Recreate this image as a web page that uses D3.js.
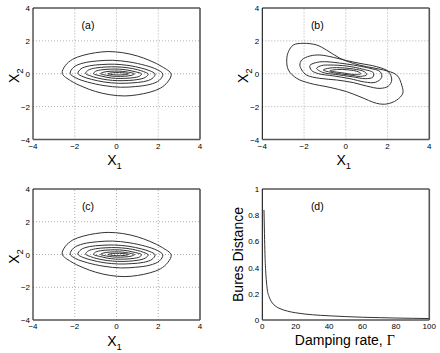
<!DOCTYPE html>
<html>
<head>
<meta charset="utf-8">
<script src="https://cdn.jsdelivr.net/npm/d3@7"></script>
<style>
  body { margin: 0; background: #fff; }
  svg text { font-family: "Liberation Sans", Arial, sans-serif; fill: #000; }
</style>
</head>
<body>
<svg id="fig" width="440" height="353"></svg>
<script>
'use strict';

// tick labels
const phaseTicks = [-4, -2, 0, 2, 4];
const dampTicks = [0, 20, 40, 60, 80, 100];
const buresTicks = [0, 0.2, 0.4, 0.6, 0.8, 1];

// contour lines of panels (a) and (c), [x1, x2] points
const contoursA = [
  [[-2.6,0.02],[-2.45,0.5],[-2.1,0.88],[-1.6,1.12],[-1.0,1.28],[-0.4,1.35],[0.3,1.28],[1.0,1.08],[1.6,0.8],[2.2,0.42],
   [2.62,-0.02],[2.45,-0.5],[2.1,-0.88],[1.6,-1.12],[1.0,-1.28],[0.4,-1.35],[-0.3,-1.28],[-1.0,-1.08],[-1.6,-0.8],[-2.2,-0.42]],
  [[-2.22,0.02],[-2.05,0.4],[-1.6,0.65],[-0.9,0.78],[-0.2,0.82],[0.6,0.72],[1.4,0.5],[1.95,0.25],
   [2.22,-0.02],[2.05,-0.4],[1.6,-0.65],[0.9,-0.78],[0.2,-0.82],[-0.6,-0.72],[-1.4,-0.5],[-1.95,-0.25]],
  [[-1.85,0.02],[-1.7,0.3],[-1.3,0.48],[-0.7,0.56],[-0.1,0.58],[0.6,0.5],[1.2,0.34],[1.6,0.18],
   [1.85,-0.02],[1.7,-0.3],[1.3,-0.48],[0.7,-0.56],[0.1,-0.58],[-0.6,-0.5],[-1.2,-0.34],[-1.6,-0.18]],
  [[-1.48,0.02],[-1.35,0.22],[-1.0,0.35],[-0.5,0.41],[0.0,0.42],[0.5,0.37],[1.0,0.25],[1.3,0.13],
   [1.52,-0.02],[1.38,-0.22],[1.03,-0.35],[0.56,-0.41],[0.06,-0.42],[-0.44,-0.37],[-0.94,-0.25],[-1.24,-0.13]],
  [[-1.1,0.01],[-1.0,0.15],[-0.7,0.24],[-0.3,0.28],[0.15,0.28],[0.55,0.22],[0.9,0.12],
   [1.2,-0.01],[1.1,-0.15],[0.8,-0.24],[0.4,-0.28],[-0.05,-0.28],[-0.45,-0.22],[-0.8,-0.12]],
  [[-0.77,0.01],[-0.6,0.1],[-0.3,0.15],[0.1,0.16],[0.45,0.12],
   [0.87,-0.01],[0.7,-0.1],[0.4,-0.15],[0.0,-0.16],[-0.35,-0.12]],
  [[-0.42,0.0],[-0.2,0.06],[0.15,0.07],[0.45,0.04],[0.58,0.0],[0.36,-0.06],[0.01,-0.07],[-0.29,-0.04]]
];

// contour lines of panel (b)
const contoursB = [
  [[-2.83,0.84],[-2.75,1.34],[-2.51,1.75],[-2.04,1.85],[-1.4,1.75],[-0.92,1.44],[-0.28,0.94],[0.36,0.63],[0.99,0.43],[1.8,0.23],
   [2.44,-0.08],[2.68,-0.69],[2.73,-1.19],[2.44,-1.6],[1.96,-1.84],[1.48,-1.8],[0.68,-1.4],[0.04,-1.09],[-0.76,-0.83],[-1.72,-0.58],
   [-2.35,-0.28],[-2.75,0.23]],
  [[-2.2,0.53],[-2.11,0.84],[-1.72,1.08],[-1.24,1.14],[-0.6,1.0],[0.04,0.8],[0.68,0.63],[1.48,0.43],[2.04,0.13],
   [2.2,-0.38],[2.04,-0.75],[1.64,-0.89],[1.0,-0.75],[0.36,-0.54],[-0.44,-0.38],[-1.24,-0.28],[-1.88,-0.08],[-2.11,0.23]],
  [[-1.72,0.5],[-1.35,0.7],[-0.9,0.73],[-0.3,0.65],[0.36,0.53],[1.16,0.33],[1.64,0.13],
   [1.72,-0.22],[1.42,-0.52],[0.9,-0.5],[0.2,-0.3],[-0.6,-0.13],[-1.3,0.0],[-1.64,0.2]],
  [[-1.4,0.33],[-1.15,0.5],[-0.76,0.53],[0.04,0.47],[0.84,0.27],[1.32,0.06],
   [1.3,-0.2],[0.95,-0.3],[0.3,-0.18],[-0.5,-0.04],[-1.1,0.08]],
  [[-1.08,0.23],[-0.8,0.34],[-0.44,0.37],[0.36,0.29],[0.9,0.12],
   [1.0,-0.06],[0.7,-0.16],[0.2,-0.08],[-0.6,0.06]],
  [[-0.76,0.18],[-0.4,0.26],[0.1,0.24],[0.6,0.12],[0.72,0.0],[0.4,-0.04],[-0.2,0.06]]
];

// panel (d): Bures distance vs damping rate
const dampRate = [1, 1.3, 1.6, 2, 2.5, 3, 4, 5, 6, 8, 10, 15, 20, 30, 40, 50, 60, 70, 80, 90, 100];
const buresDist = [0.84, 0.66, 0.5, 0.38, 0.29, 0.23, 0.18, 0.15, 0.13, 0.105, 0.09, 0.068, 0.055, 0.04, 0.032, 0.026, 0.021, 0.018, 0.015, 0.013, 0.011];

const svg = d3.select("#fig");

const cols = [[33, 200], [262.3, 429.3]];
const rows = [[8, 139.5], [189, 320]];

function makeFrame(col, row, xDomain, yDomain, xTicks, yTicks, grid, yFmt) {
  const x = d3.scaleLinear().domain(xDomain).range(cols[col]);
  const y = d3.scaleLinear().domain(yDomain).range([rows[row][1], rows[row][0]]);
  const g = svg.append("g");

  if (grid) {
    g.selectAll(".gx").data(xTicks.slice(1, -1)).enter().append("line")
      .attr("x1", d => x(d)).attr("x2", d => x(d))
      .attr("y1", y.range()[0]).attr("y2", y.range()[1])
      .attr("stroke", "#999").attr("stroke-width", 0.8).attr("stroke-dasharray", "1,2");
    g.selectAll(".gy").data(yTicks.slice(1, -1)).enter().append("line")
      .attr("y1", d => y(d)).attr("y2", d => y(d))
      .attr("x1", x.range()[0]).attr("x2", x.range()[1])
      .attr("stroke", "#999").attr("stroke-width", 0.8).attr("stroke-dasharray", "1,2");
  }

  // tick labels
  g.selectAll(".tx").data(xTicks).enter().append("text")
    .attr("x", d => x(d)).attr("y", y.range()[0] + 9)
    .attr("text-anchor", "middle").attr("font-size", 8)
    .text(d => d3.format("d")(d));
  g.selectAll(".ty").data(yTicks).enter().append("text")
    .attr("x", x.range()[0] - 3).attr("y", d => y(d) + 3)
    .attr("text-anchor", "end").attr("font-size", 8)
    .text(yFmt);

  return {x: x, y: y, g: g};
}

function drawBox(f) {
  const [x0, x1] = f.x.range();
  const [y1, y0] = f.y.range();
  f.g.append("line").attr("x1", x0).attr("x2", x1).attr("y1", y0).attr("y2", y0)
    .attr("stroke", "#000").attr("stroke-width", 1);
  f.g.append("line").attr("x1", x0).attr("x2", x0).attr("y1", y0).attr("y2", y1)
    .attr("stroke", "#000").attr("stroke-width", 1);
  f.g.append("line").attr("x1", x0).attr("x2", x1).attr("y1", y1).attr("y2", y1)
    .attr("stroke", "#555").attr("stroke-width", 1.6);
  f.g.append("line").attr("x1", x1).attr("x2", x1).attr("y1", y0).attr("y2", y1)
    .attr("stroke", "#555").attr("stroke-width", 1.6);
}

function panelLabel(f, txt) {
  f.g.append("text")
    .attr("x", f.x.range()[0] + 55).attr("y", f.y.range()[1] + 21)
    .attr("text-anchor", "middle").attr("font-size", 10.5)
    .text(txt);
}

function phaseLabels(f) {
  const xm = (f.x.range()[0] + f.x.range()[1]) / 2;
  const ym = (f.y.range()[0] + f.y.range()[1]) / 2;
  const xl = f.g.append("text")
    .attr("x", xm - 2).attr("y", f.y.range()[0] + 25.5)
    .attr("text-anchor", "middle").attr("font-size", 14);
  xl.append("tspan").text("X");
  xl.append("tspan").attr("font-size", 9.5).attr("dy", 4).text("1");

  const yl = f.g.append("text")
    .attr("transform", `translate(${f.x.range()[0] - 14},${ym + 2}) rotate(-90)`)
    .attr("text-anchor", "middle").attr("font-size", 14);
  yl.append("tspan").text("X");
  yl.append("tspan").attr("font-size", 9.5).attr("dy", 4).text("2");
}

function drawContours(f, list) {
  const line = d3.line()
    .x(d => f.x(d[0])).y(d => f.y(d[1]))
    .curve(d3.curveCatmullRomClosed.alpha(0.5));
  f.g.selectAll(".c").data(list).enter().append("path")
    .attr("d", line)
    .attr("fill", "none").attr("stroke", "#333").attr("stroke-width", 1);
}

const fmtPhase = d => d3.format("d")(d);

// (a)
const fa = makeFrame(0, 0, [-4, 4], [-4, 4], phaseTicks, phaseTicks, true, fmtPhase);
drawContours(fa, contoursA);
drawBox(fa);
panelLabel(fa, "(a)");
phaseLabels(fa);

// (b)
const fb = makeFrame(1, 0, [-4, 4], [-4, 4], phaseTicks, phaseTicks, true, fmtPhase);
drawContours(fb, contoursB);
drawBox(fb);
panelLabel(fb, "(b)");
phaseLabels(fb);

// (c)
const fc = makeFrame(0, 1, [-4, 4], [-4, 4], phaseTicks, phaseTicks, true, fmtPhase);
drawContours(fc, contoursA);
drawBox(fc);
panelLabel(fc, "(c)");
phaseLabels(fc);

// (d)
const fd = makeFrame(1, 1, [0, 100], [0, 1], dampTicks, buresTicks, false, d => d3.format("")(d));
const buresLine = d3.line()
  .x((d, i) => fd.x(dampRate[i])).y(d => fd.y(d))
  .curve(d3.curveMonotoneX);
fd.g.append("path").datum(buresDist)
  .attr("d", buresLine)
  .attr("fill", "none").attr("stroke", "#333").attr("stroke-width", 1);
drawBox(fd);
panelLabel(fd, "(d)");

const dl = fd.g.append("text")
  .attr("x", (fd.x.range()[0] + fd.x.range()[1]) / 2 - 1).attr("y", fd.y.range()[0] + 24.5)
  .attr("text-anchor", "middle").attr("font-size", 14);
dl.append("tspan").text("Damping rate, ");
dl.append("tspan").attr("font-family", "Liberation Serif, serif").text("Γ");

fd.g.append("text")
  .attr("transform", `translate(${fd.x.range()[0] - 19},${(fd.y.range()[0] + fd.y.range()[1]) / 2}) rotate(-90)`)
  .attr("text-anchor", "middle").attr("font-size", 14)
  .text("Bures Distance");
</script>
</body>
</html>
